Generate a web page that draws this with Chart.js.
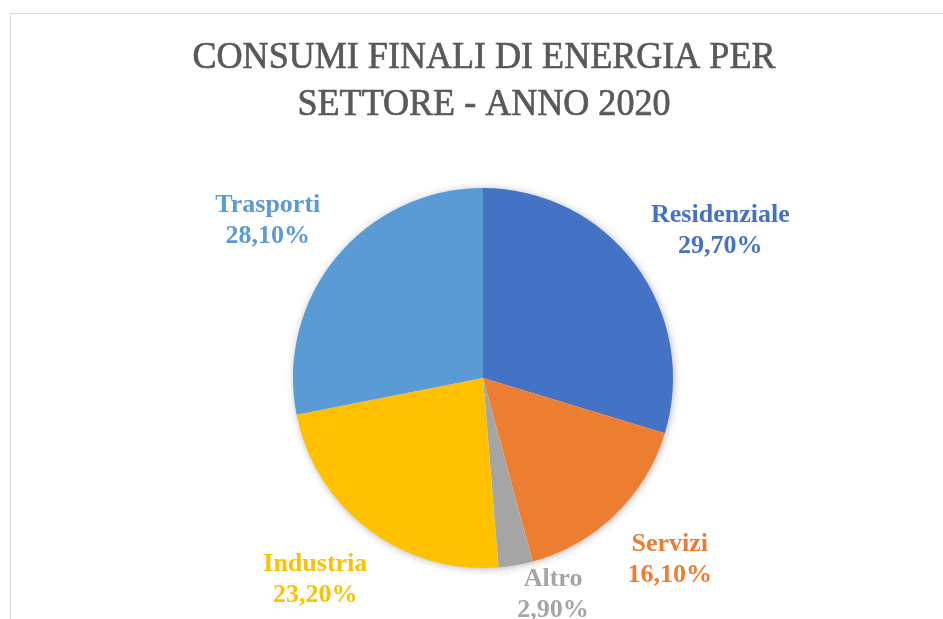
<!DOCTYPE html>
<html>
<head>
<meta charset="utf-8">
<script src="https://cdn.jsdelivr.net/npm/chart.js@4"></script>
<style>
  html, body { margin: 0; padding: 0; background: #fff; overflow: hidden; }
  #frame { position: absolute; left: 10px; top: 13px; width: 1000px; height: 700px; border: 1px solid #d9d9d9; }
  #chart { position: absolute; left: 0; top: 0; }
</style>
</head>
<body>
<div id="frame"></div>
<canvas id="chart" width="943" height="619"></canvas>
<script>
// Consumi finali di energia per settore - anno 2020
const titleLines = ['CONSUMI FINALI DI ENERGIA PER', 'SETTORE - ANNO 2020'];
const sectors = ['Residenziale', 'Servizi', 'Altro', 'Industria', 'Trasporti'];
const shares = [29.7, 16.1, 2.9, 23.2, 28.1];
const colors = ['#4472C4', '#ED7D31', '#A5A5A5', '#FFC000', '#5B9BD5'];

const SERIF = '"Liberation Serif", "DejaVu Serif", serif';

const fmtPct = v => v.toFixed(2).replace('.', ',') + '%';

// title drawn by hand (the original font is narrower, so squeeze to fit)
const titlePlugin = {
  id: 'titleLines',
  afterDraw(chart) {
    const ctx = chart.ctx;
    ctx.save();
    ctx.fillStyle = '#595959';
    ctx.strokeStyle = '#595959';
    ctx.lineWidth = 0.7;
    ctx.font = '38px ' + SERIF;
    ctx.textAlign = 'center';
    ctx.textBaseline = 'alphabetic';
    const sx = 583 / ctx.measureText(titleLines[0]).width;
    titleLines.forEach((t, i) => {
      ctx.save();
      ctx.translate(484, 68 + i * 47);
      ctx.scale(sx, 1);
      ctx.fillText(t, 0, 0);
      ctx.strokeText(t, 0, 0);
      ctx.restore();
    });
    ctx.restore();
  },
};

// soft shadow under the whole pie
const shadowPlugin = {
  id: 'pieShadow',
  beforeDatasetsDraw(chart) {
    const arc = chart.getDatasetMeta(0).data[0];
    if (!arc) return;
    const { x, y, outerRadius } = arc.getProps(['x', 'y', 'outerRadius'], true);
    const ctx = chart.ctx;
    ctx.save();
    ctx.shadowColor = 'rgba(0,0,0,0.35)';
    ctx.shadowBlur = 8;
    ctx.shadowOffsetX = 1;
    ctx.shadowOffsetY = 1;
    ctx.fillStyle = '#fff';
    ctx.beginPath();
    ctx.arc(x, y, outerRadius - 1, 0, Math.PI * 2);
    ctx.fill();
    ctx.restore();
  },
};

// outside labels: name + percent, coloured like the slice
const labelPlugin = {
  id: 'outsideLabels',
  afterDatasetsDraw(chart) {
    const ctx = chart.ctx;
    const meta = chart.getDatasetMeta(0);
    const capH = 17, half = 15.5, hh = 24;
    ctx.save();
    ctx.font = 'bold 26px ' + SERIF;
    ctx.textAlign = 'center';
    ctx.textBaseline = 'alphabetic';
    meta.data.forEach((arc, i) => {
      const p = arc.getProps(['x', 'y', 'startAngle', 'endAngle', 'outerRadius'], true);
      const lines = [sectors[i], fmtPct(shares[i])];
      const hw = Math.max(...lines.map(l => ctx.measureText(l).width)) / 2;
      const mid = (p.startAngle + p.endAngle) / 2;
      const dx = Math.cos(mid), dy = Math.sin(mid);
      const R = p.outerRadius * 1.19;
      let cx = p.x + dx * R + dx * hw;
      let cy = p.y + dy * R + dy * hh;
      // keep inside the canvas
      cy = Math.min(cy, chart.height - 2 - half - capH / 2);
      cy = Math.max(cy, half + capH / 2 + 2);
      // push sideways until the label box clears the pie
      const dir = dx >= 0 ? 1 : -1;
      for (let k = 0; k < 300; k++) {
        const nx = Math.max(cx - hw, Math.min(p.x, cx + hw));
        const ny = Math.max(cy - hh, Math.min(p.y, cy + hh));
        if (Math.hypot(nx - p.x, ny - p.y) >= p.outerRadius + 4) break;
        cx += dir;
      }
      ctx.fillStyle = colors[i];
      ctx.fillText(lines[0], cx, cy - half + capH / 2);
      ctx.fillText(lines[1], cx, cy + half + capH / 2);
    });
    ctx.restore();
  },
};

new Chart(document.getElementById('chart'), {
  type: 'pie',
  data: {
    labels: sectors,
    datasets: [{
      data: shares,
      backgroundColor: colors,
      borderWidth: 0,
      hoverOffset: 0,
    }],
  },
  options: {
    responsive: false,
    animation: false,
    layout: { padding: { top: 188, bottom: 51, left: 293, right: 270 } },
    plugins: {
      legend: { display: false },
      tooltip: { enabled: false },
      title: { display: false },
    },
  },
  plugins: [shadowPlugin, labelPlugin, titlePlugin],
});
</script>
</body>
</html>
